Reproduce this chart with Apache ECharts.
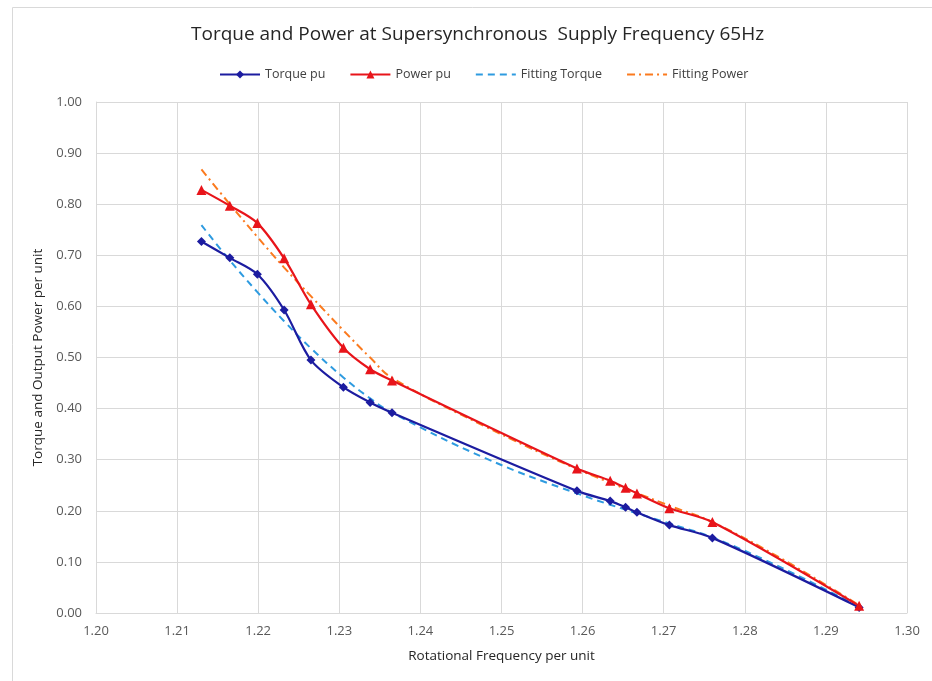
<!DOCTYPE html>
<html>
<head>
<meta charset="utf-8">
<script src="https://cdn.jsdelivr.net/npm/echarts@6/dist/echarts.min.js"></script>
<style>
html, body { margin: 0; padding: 0; background: #fff; }
#main { width: 932px; height: 681px; }
</style>
</head>
<body>
<div id="main"></div>
<script>
// rotational frequency (pu) shared by measured series
var freq = [1.2130, 1.2165, 1.2199, 1.2232, 1.2265, 1.2305, 1.2338, 1.2365,
            1.2593, 1.2634, 1.2653, 1.2667, 1.2707, 1.2760, 1.2941];
var torque = [0.727, 0.695, 0.663, 0.593, 0.495, 0.442, 0.412, 0.392,
              0.239, 0.219, 0.207, 0.197, 0.172, 0.147, 0.011];
var power = [0.828, 0.797, 0.763, 0.694, 0.604, 0.519, 0.477, 0.455,
             0.283, 0.259, 0.245, 0.234, 0.205, 0.178, 0.014];

// trend lines
var fitFreq = [1.2130, 1.2165, 1.2199, 1.2232, 1.2265, 1.2305, 1.2338, 1.2365,
               1.2480, 1.2593, 1.2707, 1.2760, 1.2850, 1.2941];
var fitTorque = [0.759, 0.690, 0.628, 0.571, 0.518, 0.461, 0.420, 0.392,
                 0.303, 0.234, 0.175, 0.148, 0.085, 0.012];
var fitPower = [0.868, 0.800, 0.736, 0.676, 0.620, 0.553, 0.500, 0.460,
                0.365, 0.282, 0.210, 0.178, 0.102, 0.015];

function pairs(xs, ys) {
  return xs.map(function (x, i) { return [x, ys[i]]; });
}

var chart = echarts.init(document.getElementById('main'), null, {renderer: 'canvas'});
var font = 'Open Sans, Liberation Sans, sans-serif';
var option = {
  animation: false,
  textStyle: {fontFamily: font},
  title: {
    text: 'Torque and Power at Supersynchronous  Supply Frequency 65Hz',
    left: 186,
    top: 20,
    textStyle: {fontSize: 19, fontWeight: 'normal', color: '#262626', fontFamily: font}
  },
  graphic: [{
    type: 'rect',
    shape: {x: 12.5, y: 7.5, width: 940, height: 700},
    style: {fill: 'none', stroke: '#d9d9d9', lineWidth: 1},
    silent: true
  }],
  legend: {
    top: 63,
    left: 214,
    itemGap: 24,
    itemWidth: 40,
    itemHeight: 10,
    textStyle: {fontSize: 12.5, color: '#404040', fontFamily: font},
    data: [
      {name: 'Torque pu'},
      {name: 'Power pu'},
      {name: 'Fitting Torque', itemStyle: {opacity: 0}},
      {name: 'Fitting Power', itemStyle: {opacity: 0}}
    ]
  },
  grid: {left: 96, right: 25, top: 102, bottom: 68},
  xAxis: {
    type: 'value',
    min: 1.2, max: 1.3, interval: 0.01,
    name: 'Rotational Frequency per unit',
    nameLocation: 'middle',
    nameGap: 36,
    nameTextStyle: {fontSize: 13.5, color: '#262626'},
    axisLine: {lineStyle: {color: '#d9d9d9'}},
    axisTick: {show: false},
    axisLabel: {color: '#595959', fontSize: 13, margin: 12,
      formatter: function (v) { return v.toFixed(2); }},
    splitLine: {lineStyle: {color: '#d9d9d9'}}
  },
  yAxis: {
    type: 'value',
    min: 0, max: 1, interval: 0.1,
    name: 'Torque and Output Power per unit',
    nameLocation: 'middle',
    nameGap: 50,
    nameTextStyle: {fontSize: 13.5, color: '#262626'},
    axisLine: {show: true, lineStyle: {color: '#d9d9d9'}},
    axisTick: {show: false},
    axisLabel: {color: '#595959', fontSize: 13, margin: 14,
      formatter: function (v) { return v.toFixed(2); }},
    splitLine: {lineStyle: {color: '#d9d9d9'}}
  },
  series: [
    {
      name: 'Torque pu',
      type: 'line',
      smooth: 0.3,
      data: pairs(freq, torque),
      symbol: 'diamond',
      symbolSize: 9,
      color: '#1c1ca0',
      itemStyle: {color: '#1c1ca0'},
      lineStyle: {color: '#1c1ca0', width: 2.2},
      z: 3
    },
    {
      name: 'Power pu',
      type: 'line',
      smooth: 0.3,
      data: pairs(freq, power),
      symbol: 'triangle',
      symbolSize: 10,
      color: '#e8141a',
      itemStyle: {color: '#e8141a'},
      lineStyle: {color: '#e8141a', width: 2.2},
      z: 3
    },
    {
      name: 'Fitting Torque',
      type: 'line',
      smooth: 0.4,
      data: pairs(fitFreq, fitTorque),
      symbol: 'none',
      color: '#2e9be0',
      lineStyle: {color: '#2e9be0', width: 2, type: [7, 5]},
      z: 2
    },
    {
      name: 'Fitting Power',
      type: 'line',
      smooth: 0.4,
      data: pairs(fitFreq, fitPower),
      symbol: 'none',
      color: '#fb7a1e',
      lineStyle: {color: '#fb7a1e', width: 2, type: [8, 4, 2, 4]},
      z: 2
    }
  ]
};
chart.setOption(option);
</script>
</body>
</html>
